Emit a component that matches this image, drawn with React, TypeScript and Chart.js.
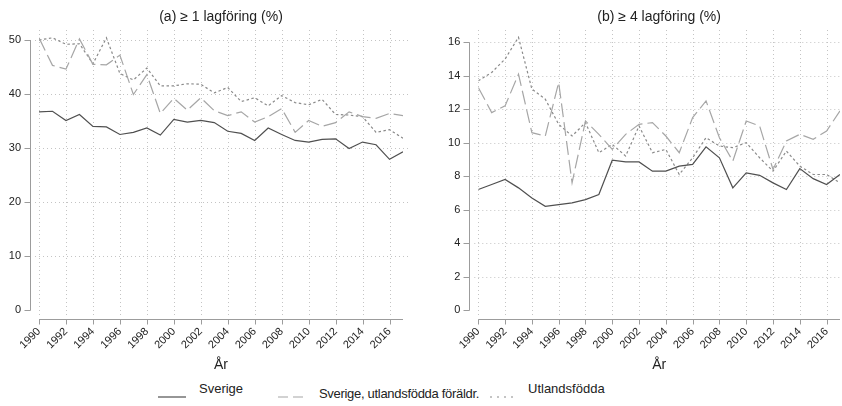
import React, { useEffect, useRef } from "react";
import { Chart, registerables } from "chart.js";

Chart.register(...registerables);

// ---------- data ----------
const years = [
  1990, 1991, 1992, 1993, 1994, 1995, 1996, 1997, 1998, 1999, 2000, 2001, 2002, 2003,
  2004, 2005, 2006, 2007, 2008, 2009, 2010, 2011, 2012, 2013, 2014, 2015, 2016, 2017,
];
const xTickYears = [1990, 1992, 1994, 1996, 1998, 2000, 2002, 2004, 2006, 2008, 2010, 2012, 2014, 2016];

const seriesNames = ["Sverige", "Sverige, utlandsfödda föräldr.", "Utlandsfödda"];

// (a) >= 1 lagföring (%)
const aSverige = [
  36.7, 36.8, 35.1, 36.2, 34.0, 33.9, 32.5, 32.9, 33.7, 32.4, 35.3, 34.8, 35.1, 34.7,
  33.1, 32.7, 31.4, 33.7, 32.5, 31.4, 31.1, 31.6, 31.7, 29.9, 31.1, 30.6, 27.9, 29.3,
];
const aUtlForaldr = [
  50.4, 45.3, 44.6, 50.2, 45.5, 45.4, 47.2, 39.9, 43.6, 36.4, 39.2, 37.0, 39.3, 36.9,
  36.0, 36.7, 34.8, 35.8, 37.3, 32.9, 35.1, 34.0, 34.7, 36.7, 35.8, 35.5, 36.4, 36.0,
];
const aUtlandsfodda = [
  50.0, 50.4, 49.2, 49.3, 45.6, 50.4, 43.8, 42.6, 44.8, 41.5, 41.5, 41.9, 41.8, 40.2,
  41.2, 38.6, 39.3, 37.8, 39.7, 38.4, 38.0, 39.0, 36.2, 36.1, 35.8, 32.9, 33.4, 31.8,
];
const aYTicks = [0, 10, 20, 30, 40, 50];

// (b) >= 4 lagföring (%)
const bSverige = [
  7.2, 7.5, 7.8, 7.3, 6.7, 6.2, 6.3, 6.4, 6.6, 6.9, 8.95, 8.85, 8.85, 8.3,
  8.3, 8.6, 8.7, 9.75, 9.1, 7.3, 8.2, 8.05, 7.6, 7.2, 8.45, 7.85, 7.5, 8.1,
];
const bUtlForaldr = [
  13.3, 11.8, 12.2, 14.1, 10.6, 10.4, 13.6, 7.6, 11.3, 10.5, 9.6, 10.5, 11.1, 11.2,
  10.4, 9.4, 11.5, 12.5, 10.3, 8.9, 11.3, 11.0, 8.4, 10.1, 10.5, 10.2, 10.7, 11.9,
];
const bUtlandsfodda = [
  13.7, 14.2, 15.0, 16.3, 13.2, 12.6, 11.1, 10.4, 11.2, 9.4, 9.9, 9.2, 11.0, 9.4,
  9.6, 8.1, 9.1, 10.3, 9.8, 9.7, 10.0, 9.1, 8.3, 9.5, 8.6, 8.1, 8.1, 7.6,
];
const bYTicks = [0, 2, 4, 6, 8, 10, 12, 14, 16];

// ---------- styles ----------
const LINE_STYLES = [
  { color: "#505050", dash: [] as number[] },
  { color: "#a6a6a6", dash: [14, 5] },
  { color: "#8a8a8a", dash: [2.5, 2.5] },
];
const FONT = "'Liberation Sans', Arial, Helvetica, sans-serif";

const stataAxes = {
  id: "stataAxes",
  beforeDatasetsDraw(chart: any) {
    const { ctx, chartArea, scales } = chart;
    const { left, right, top, bottom } = chartArea;
    const x = scales.x;
    const y = scales.y;
    const line = (x1: number, y1: number, x2: number, y2: number) => {
      ctx.beginPath();
      ctx.moveTo(x1, y1);
      ctx.lineTo(x2, y2);
      ctx.stroke();
    };
    ctx.save();
    ctx.lineWidth = 1;
    ctx.strokeStyle = "#c4c4c4";
    ctx.setLineDash([1, 3]);
    y.ticks.forEach((t: any) => {
      if (t.value === 0) return;
      const py = Math.round(y.getPixelForValue(t.value)) + 0.5;
      line(left - 4, py, right + 5, py);
    });
    x.ticks.forEach((t: any) => {
      const px = Math.round(x.getPixelForValue(t.value)) + 0.5;
      line(px, top, px, bottom - 2);
    });
    ctx.setLineDash([]);
    ctx.strokeStyle = "#9c9c9c";
    const ax = Math.round(left - 9) + 0.5;
    const yTicks = y.ticks.map((t: any) => t.value);
    line(ax, y.getPixelForValue(yTicks[0]) + 0.5, ax, y.getPixelForValue(yTicks[yTicks.length - 1]));
    yTicks.forEach((v: number) => {
      const py = Math.round(y.getPixelForValue(v)) + 0.5;
      line(ax - 6, py, ax, py);
    });
    const by = Math.round(bottom) + 0.5;
    line(left, by, right, by);
    x.ticks.forEach((t: any) => {
      const px = Math.round(x.getPixelForValue(t.value)) + 0.5;
      line(px, by, px, by + 5);
    });
    ctx.restore();
  },
};

type PanelProps = {
  title: string;
  series: number[][];
  yTicks: number[];
  yMin: number;
  yMax: number;
  axisWidth: number;
  padRight: number;
};

function Panel({ title, series, yTicks, yMin, yMax, axisWidth, padRight }: PanelProps) {
  const ref = useRef<HTMLCanvasElement | null>(null);
  useEffect(() => {
    if (!ref.current) return;
    const chart = new Chart(ref.current, {
      type: "line",
      data: {
        datasets: series.map((vals, i) => ({
          label: seriesNames[i],
          data: years.map((yr, j) => ({ x: yr, y: vals[j] })),
          borderColor: LINE_STYLES[i].color,
          borderDash: LINE_STYLES[i].dash,
          borderWidth: 1.2,
          pointRadius: 0,
          tension: 0,
          fill: false,
        })),
      },
      options: {
        animation: false,
        responsive: false,
        devicePixelRatio: 1,
        layout: { padding: { left: 0, right: padRight, top: 0, bottom: 0 } },
        plugins: {
          legend: { display: false },
          tooltip: { enabled: false },
          title: {
            display: true,
            text: title,
            fullSize: false,
            color: "#222",
            font: { family: FONT, size: 14, weight: "normal" },
            padding: { top: 8.5, bottom: 4.7 },
          },
        },
        scales: {
          x: {
            type: "linear",
            min: years[0],
            max: years[years.length - 1],
            afterBuildTicks: (s: any) => {
              s.ticks = xTickYears.map((v) => ({ value: v }));
            },
            afterFit: (s: any) => {
              s.height = 57;
            },
            grid: { display: false, drawTicks: false },
            border: { display: false },
            ticks: {
              autoSkip: false,
              minRotation: 45,
              maxRotation: 45,
              padding: 6,
              color: "#222",
              font: { family: FONT, size: 11 },
              callback: (v: any) => String(v),
            },
            title: {
              display: true,
              text: "År",
              color: "#222",
              font: { family: FONT, size: 14 },
              padding: { top: 0, bottom: 2 },
            },
          },
          y: {
            type: "linear",
            min: yMin,
            max: yMax,
            afterBuildTicks: (s: any) => {
              s.ticks = yTicks.map((v) => ({ value: v }));
            },
            afterFit: (s: any) => {
              s.width = axisWidth;
            },
            grid: { display: false, drawTicks: false },
            border: { display: false },
            ticks: {
              padding: 18,
              color: "#222",
              font: { family: FONT, size: 11 },
              callback: (v: any) => String(v),
            },
          },
        },
      },
      plugins: [stataAxes],
    } as any);
    return () => chart.destroy();
  }, []);
  return <canvas ref={ref} width={421} height={376} style={{ display: "block", width: 421, height: 376 }} />;
}

function LegendSample({ dash, color }: { dash: number[]; color: string }) {
  return (
    <svg width={28} height={4} style={{ display: "block" }}>
      <line x1={0} y1={2} x2={28} y2={2} stroke={color} strokeWidth={1.2} strokeDasharray={dash.length ? dash.join(" ") : undefined} />
    </svg>
  );
}

export default function App() {
  const legendText: React.CSSProperties = {
    position: "absolute",
    fontFamily: FONT,
    fontSize: 13,
    color: "#222",
    lineHeight: "16px",
    whiteSpace: "nowrap",
  };
  return (
    <div style={{ position: "absolute", left: 0, top: 0, width: 842, height: 406, overflow: "hidden", background: "#fff" }}>
      <div style={{ position: "absolute", left: 0, top: 0 }}>
        <Panel
          title="(a) ≥ 1 lagföring (%)"
          series={[aSverige, aUtlForaldr, aUtlandsfodda]}
          yTicks={aYTicks}
          yMin={-1.667}
          yMax={51.85}
          axisWidth={39}
          padRight={18}
        />
      </div>
      <div style={{ position: "absolute", left: 421, top: 0 }}>
        <Panel
          title="(b) ≥ 4 lagföring (%)"
          series={[bSverige, bUtlForaldr, bUtlandsfodda]}
          yTicks={bYTicks}
          yMin={-0.538}
          yMax={16.736}
          axisWidth={57.3}
          padRight={0.5}
        />
      </div>
      <div style={{ position: "absolute", left: 158, top: 395 }}>
        <LegendSample dash={[]} color={LINE_STYLES[0].color} />
      </div>
      <div style={{ ...legendText, left: 199, top: 381 }}>{seriesNames[0]}</div>
      <div style={{ position: "absolute", left: 278, top: 395 }}>
        <LegendSample dash={[10, 5]} color={LINE_STYLES[1].color} />
      </div>
      <div style={{ ...legendText, left: 319, top: 386, letterSpacing: -0.3 }}>{seriesNames[1]}</div>
      <div style={{ position: "absolute", left: 490, top: 395 }}>
        <LegendSample dash={[2, 5]} color={LINE_STYLES[2].color} />
      </div>
      <div style={{ ...legendText, left: 528, top: 381 }}>{seriesNames[2]}</div>
    </div>
  );
}
